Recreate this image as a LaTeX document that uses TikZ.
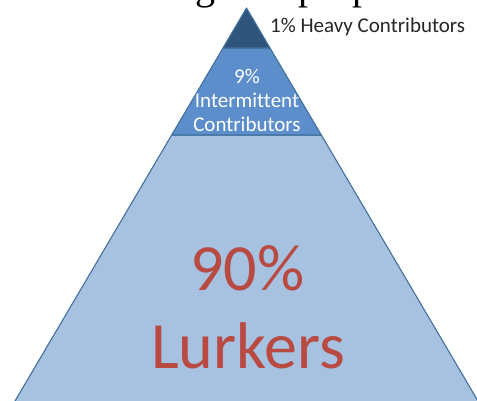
\documentclass[tikz,border=0pt]{standalone}
\usepackage{fontspec}
\usepackage{tikz}
\newfontfamily\calibri[Ligatures=NoCommon]{Carlito}
\newfontfamily\serifcut{Liberation Serif}
\definecolor{heavyblue}{RGB}{47,85,125}
\definecolor{midblue}{RGB}{91,142,202}
\definecolor{lightblue}{RGB}{167,193,224}
\definecolor{edgeblue}{RGB}{65,113,156}
\definecolor{lurkred}{RGB}{184,74,66}
\definecolor{labelgray}{RGB}{38,38,38}

\begin{document}
\begin{tikzpicture}[x=1pt,y=-1pt]
\tikzstyle{every node}+=[inner sep=0pt]
\tikzstyle{band}=[draw=edgeblue, line width=1.1pt, line join=round]
\tikzstyle{small label}=[font=\calibri\fontsize{21}{24}\selectfont, align=center]
\tikzstyle{big label}=[font=\calibri\fontsize{66}{79}\selectfont, text=lurkred]
\useasboundingbox (0,0) rectangle (477,401);
% cut-off line of text above the picture
\node [anchor=base west, font=\serifcut\fontsize{40}{48}\selectfont] (cutg) at (195,-0.5) {g};
\node [anchor=base west, font=\serifcut\fontsize{40}{48}\selectfont] (cutpa) at (298,-0.5) {p};
\node [anchor=base west, font=\serifcut\fontsize{40}{48}\selectfont] (cutpb) at (352,-0.5) {p};
% pyramid bands
\coordinate (apex) at (246.5,8);
\draw [band, fill=lightblue] (171.7,135) -- (321.3,135) -- (488,418) -- (5,418) -- cycle;
\draw [band, fill=midblue] (223,48) -- (270,48) -- (321.3,135) -- (171.7,135) -- cycle;
\draw [band, fill=heavyblue] (apex) -- (270,48) -- (223,48) -- cycle;
% labels
\node [small label, anchor=base west, text=labelgray] (heavy) at (270,33) {1\% Heavy Contributors};
\node [small label, text=white] (intermittent) at (247,100) {9\%\\Intermittent\\Contributors};
\node [big label, anchor=base] (lurkpct) at (247.5,290) {90\%};
\node [big label, anchor=base] (lurkname) at (248,368) {Lurkers};
\end{tikzpicture}
\end{document}
